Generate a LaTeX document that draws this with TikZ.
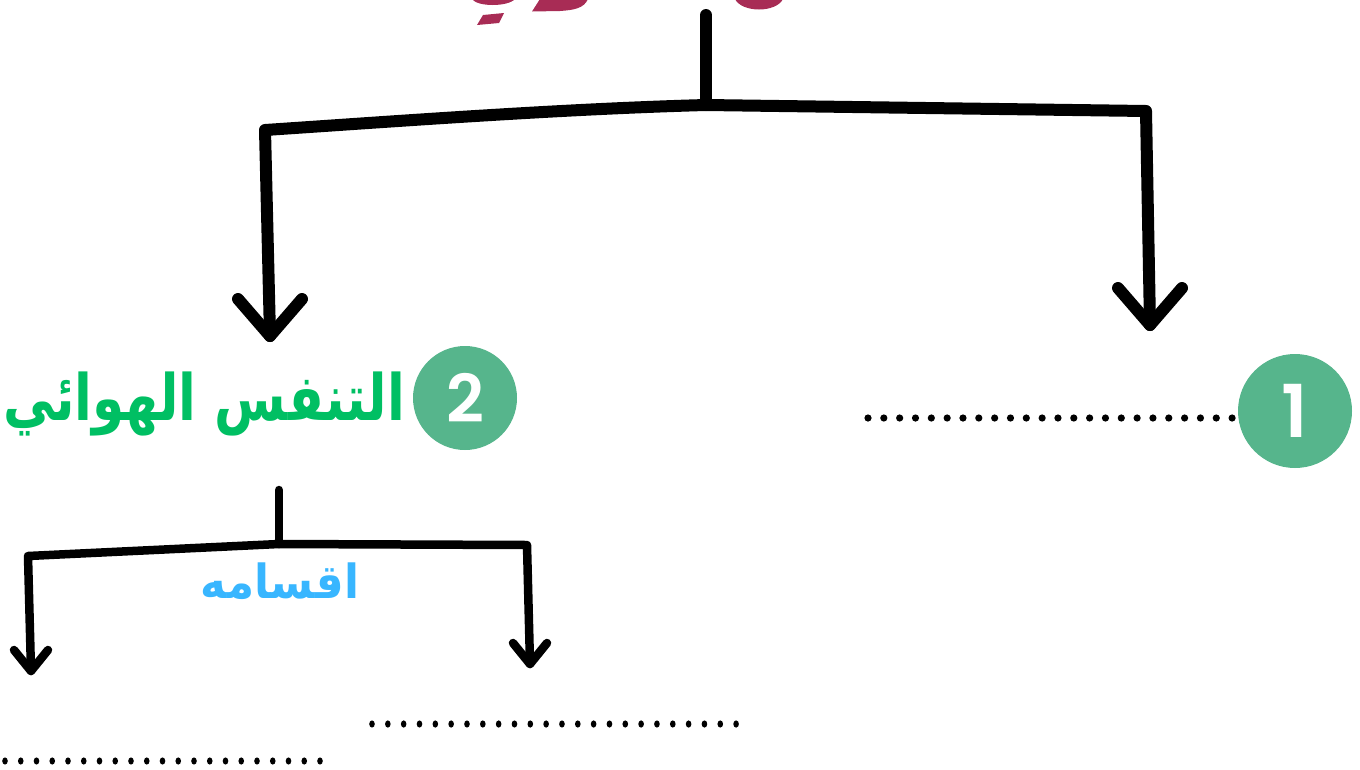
\documentclass[tikz,border=0pt]{standalone}
\usepackage{fontspec}
\usetikzlibrary{calc}
\TeXXeTstate=1
\newfontfamily\arabicfont[Script=Arabic]{DejaVu Sans}
\newfontfamily\digitfont{Poppins}[UprightFont=* SemiBold]
\definecolor{maroon}{RGB}{168,44,85}
\definecolor{circgreen}{RGB}{86,181,140}
\definecolor{txtgreen}{RGB}{0,191,99}
\definecolor{txtblue}{RGB}{56,182,255}
\tikzset{
  thick line/.style={line width=12pt,line cap=round,line join=round},
  thin line/.style={line width=8.5pt,line cap=round,line join=round},
  numcircle/.style={circle,fill=circgreen,text=white,inner sep=0pt,font=\digitfont},
}
\begin{document}
\begin{tikzpicture}[x=1pt,y=-1pt]
\useasboundingbox (0,0) rectangle (1360,769);
% cut-off title fragments
\begin{scope}[fill=maroon]
\clip (0,0) rectangle (1360,769);
\fill (472,-1) .. controls (477,7) and (508,7) .. (515,-1) -- cycle;
\fill (532,11.5) -- (540,-1) -- (588,-1) .. controls (584,8) and (575,10) .. (560,11) -- cycle;
\fill (477,25) -- (483,15) -- (504,13) -- (499,23) -- cycle;
\fill (735,-1) .. controls (742,13) and (776,13) .. (783,-1) -- cycle;
\end{scope}
% nodes
\node[numcircle,minimum size=104pt,font=\digitfont\fontsize{66}{66}\selectfont] (c2) at (465,398) {2};
\node[numcircle,minimum size=114pt,font=\digitfont\fontsize{73}{73}\selectfont] (c1) at (1295,411) {1};
\node[text=txtgreen,font=\arabicfont\bfseries\fontsize{64}{64}\selectfont,anchor=base,inner sep=0pt] (t2) at (204,420) {\scalebox{0.81}[1]{\beginR التنفس الهوائي\endR}};
\node[text=txtblue,font=\arabicfont\bfseries\fontsize{47}{47}\selectfont,anchor=base,inner sep=0pt] (t3) at (280,598) {\scalebox{0.93}[1]{\beginR اقسامه\endR}};
% coordinates
\coordinate (top) at (706,15);
\coordinate (mid) at (706,105);
\coordinate (lc) at (265,130);
\coordinate (rc) at (1146,111);
\coordinate (lt) at (270,336);
\coordinate (rt) at (1150,325);
\coordinate (stem2) at (279,490);
\coordinate (mid2) at (279,544);
\coordinate (lc2) at (28,556);
\coordinate (rc2) at (527,545);
\coordinate (lt2) at (31,671);
\coordinate (rt2) at (530,664);
% upper tree
\draw[thick line] (top) -- (mid);
\draw[thick line] (lt) -- (lc) .. controls (400,121) and (560,109) .. (mid) -- (rc) -- (rt);
\draw[thick line] (lt) ++(-32,-37) -- (lt) -- ++(32,-37);
\draw[thick line] (rt) ++(-32,-37) -- (rt) -- ++(32,-37);
% lower tree
\draw[thin line] (stem2) -- (mid2);
\draw[thin line] (lt2) -- (lc2) -- (mid2) -- (rc2) -- (rt2);
\draw[thin line] (lt2) ++(-17,-21) -- (lt2) -- ++(17,-21);
\draw[thin line] (rt2) ++(-17,-21) -- (rt2) -- ++(17,-21);
% dotted blanks
\coordinate (d1a) at (868,418);
\coordinate (d2a) at (372,724);
\coordinate (d3a) at (5,761);
\foreach \i in {0,...,23} \fill ($(d1a)+(\i*15.83,0)$) circle (3.6pt);
\foreach \i in {0,...,23} \fill ($(d2a)+(\i*15.83,0)$) ellipse (2.8pt and 3.6pt);
\foreach \i in {0,...,20} \fill ($(d3a)+(\i*15.75,0)$) ellipse (2.8pt and 3.6pt);
\end{tikzpicture}
\end{document}
